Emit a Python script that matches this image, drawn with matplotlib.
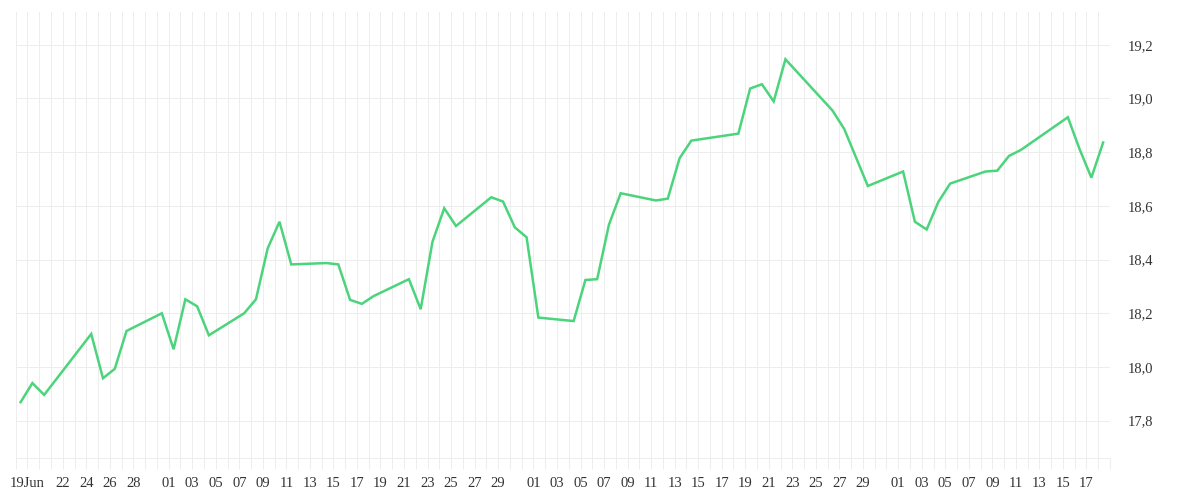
import matplotlib
matplotlib.use("Agg")
import matplotlib.pyplot as plt
import matplotlib.dates as mdates
import matplotlib.ticker as mticker
import pandas as pd

# trading days (2025) and closing values
dates = [
    "2025-06-18", "2025-06-19", "2025-06-20", "2025-06-24", "2025-06-25", "2025-06-26",
    "2025-06-27", "2025-06-30", "2025-07-01", "2025-07-02", "2025-07-03", "2025-07-04",
    "2025-07-07", "2025-07-08", "2025-07-09", "2025-07-10", "2025-07-11", "2025-07-14",
    "2025-07-15", "2025-07-16", "2025-07-17", "2025-07-18", "2025-07-21", "2025-07-22",
    "2025-07-23", "2025-07-24", "2025-07-25", "2025-07-28", "2025-07-29", "2025-07-30",
    "2025-07-31", "2025-08-01", "2025-08-04", "2025-08-05", "2025-08-06", "2025-08-07",
    "2025-08-08", "2025-08-11", "2025-08-12", "2025-08-13", "2025-08-14", "2025-08-18",
    "2025-08-19", "2025-08-20", "2025-08-21", "2025-08-22", "2025-08-26", "2025-08-27",
    "2025-08-29", "2025-09-01", "2025-09-02", "2025-09-03", "2025-09-04", "2025-09-05",
    "2025-09-08", "2025-09-09", "2025-09-10", "2025-09-11", "2025-09-15", "2025-09-16",
    "2025-09-17", "2025-09-18",
]
values = [
    17.869, 17.940, 17.896, 18.123, 17.958, 17.993,
    18.134, 18.200, 18.066, 18.252, 18.226, 18.118,
    18.200, 18.252, 18.442, 18.541, 18.382, 18.387,
    18.382, 18.250, 18.235, 18.264, 18.327, 18.215,
    18.466, 18.591, 18.525, 18.632, 18.616, 18.520,
    18.483, 18.184, 18.171, 18.324, 18.327, 18.530,
    18.647, 18.620, 18.627, 18.777, 18.843, 18.869,
    19.037, 19.053, 18.989, 19.146, 18.955, 18.886,
    18.674, 18.728, 18.541, 18.512, 18.615, 18.683,
    18.728, 18.731, 18.786, 18.808, 18.930, 18.811,
    18.705, 18.836,
]

tick_dates = (
    ["2025-06-19", "2025-06-22", "2025-06-24", "2025-06-26", "2025-06-28"]
    + [f"2025-07-{d:02d}" for d in range(1, 30, 2)]
    + [f"2025-08-{d:02d}" for d in range(1, 30, 2)]
    + [f"2025-09-{d:02d}" for d in range(1, 18, 2)]
)
tick_labels = (
    ["19Jun", "22", "24", "26", "28"]
    + [f"{d:02d}" for d in range(1, 30, 2)]
    + [f"{d:02d}" for d in range(1, 30, 2)]
    + [f"{d:02d}" for d in range(1, 18, 2)]
)
y_ticks = [17.8, 18.0, 18.2, 18.4, 18.6, 18.8, 19.0, 19.2]

GRID = "#ededed"
LINE = "#4cd47c"
TEXT = "#333333"

# quotes are stamped at 10:00 local time
times = pd.to_datetime(dates) + pd.Timedelta(hours=10)

fig = plt.figure(figsize=(12, 5), dpi=100)
ax = fig.add_axes([0.0131, 0.084, 0.9119, 0.892])

ax.plot(times, values, color=LINE, linewidth=1.8, solid_joinstyle="miter", zorder=3)

ax.set_xlim(pd.Timestamp("2025-06-18"), pd.Timestamp("2025-09-19"))
ax.set_ylim(17.661, 19.322)

# x axis: a grid line every day, labels every other day
ax.xaxis.set_minor_locator(mdates.DayLocator())
ax.set_xticks(pd.to_datetime(tick_dates))
ax.set_xticklabels(tick_labels)
ax.tick_params(axis="x", which="both", length=7.9, width=0.72, color=GRID,
               labelsize=10.5, labelcolor=TEXT, pad=5.5)
ax.xaxis.grid(True, which="both", color=GRID, linewidth=0.72)

# y axis on the right, comma decimals
ax.yaxis.tick_right()
ax.set_yticks(y_ticks)
ax.yaxis.set_major_formatter(mticker.FuncFormatter(lambda v, _: f"{v:.1f}".replace(".", ",")))
ax.tick_params(axis="y", length=0, labelsize=10.5, labelcolor=TEXT, pad=12.5)
ax.yaxis.grid(True, color=GRID, linewidth=0.72)
ax.set_axisbelow(True)

for lbl in ax.get_xticklabels() + ax.get_yticklabels():
    lbl.set_family(["Liberation Serif", "DejaVu Serif"])

for side in ["top", "left", "right"]:
    ax.spines[side].set_visible(False)
ax.spines["bottom"].set_color(GRID)
ax.spines["bottom"].set_linewidth(0.72)

fig.savefig("out.png", dpi=100, facecolor="white")
